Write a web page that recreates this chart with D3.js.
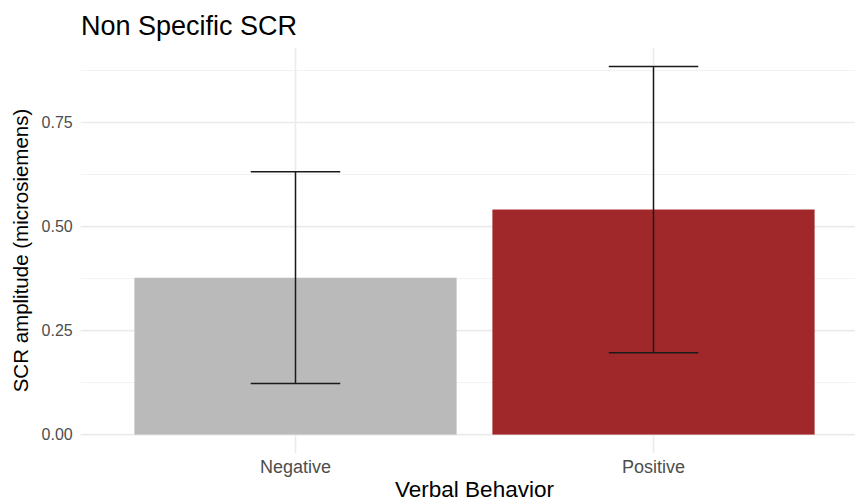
<!DOCTYPE html>
<html>
<head>
<meta charset="utf-8">
<script src="https://cdn.jsdelivr.net/npm/d3@7"></script>
<style>
	body { margin: 0; background: #fff; }
	text { font-family: "Liberation Sans", Arial, sans-serif; }
</style>
</head>
<body>
<svg id="chart" width="855" height="501"></svg>
<script>
// data
const categories = ["Negative", "Positive"];
const means = [0.377, 0.541];
const lower = [0.123, 0.197];
const upper = [0.632, 0.885];
const barColors = ["#BABABA", "#A1282A"];
const yTicks = [0, 0.25, 0.5, 0.75];
const yMinor = [0.125, 0.375, 0.625, 0.875];

let size = { left: 80.7, right: 868.3, top: 48, bottom: 453 };

let svg = d3.select("#chart");
let containerG = svg.append("g");

// ggplot-like expansion: 0.6 units each side for discrete x, 5% for y
let x = d3
	.scaleBand()
	.domain(categories)
	.range([size.left, size.right])
	.paddingInner(0.1)
	.paddingOuter(0.15);

let yMax = d3.max(upper);
let y = d3
	.scaleLinear()
	.domain([-0.05 * yMax, yMax * 1.05])
	.range([size.bottom, size.top]);

// grid
containerG
	.selectAll("line.minor")
	.data(yMinor)
	.join("line")
	.classed("minor", true)
	.attr("x1", size.left)
	.attr("x2", size.right)
	.attr("y1", (d) => y(d))
	.attr("y2", (d) => y(d))
	.attr("stroke", "#F2F2F2")
	.attr("stroke-width", 1);

containerG
	.selectAll("line.major")
	.data(yTicks)
	.join("line")
	.classed("major", true)
	.attr("x1", size.left)
	.attr("x2", size.right)
	.attr("y1", (d) => y(d))
	.attr("y2", (d) => y(d))
	.attr("stroke", "#EBEBEB")
	.attr("stroke-width", 1.6);

containerG
	.selectAll("line.vmajor")
	.data(categories)
	.join("line")
	.classed("vmajor", true)
	.attr("x1", (d) => x(d) + x.bandwidth() / 2)
	.attr("x2", (d) => x(d) + x.bandwidth() / 2)
	.attr("y1", size.top)
	.attr("y2", size.bottom)
	.attr("stroke", "#EBEBEB")
	.attr("stroke-width", 1.6);

// bars
containerG
	.selectAll("rect.bar")
	.data(categories)
	.join("rect")
	.classed("bar", true)
	.attr("x", (d) => x(d))
	.attr("width", x.bandwidth())
	.attr("y", (d, i) => y(means[i]))
	.attr("height", (d, i) => y(0) - y(means[i]))
	.attr("fill", (d, i) => barColors[i]);

// error bars, width 0.25 of a category step
let capW = x.step() * 0.25;
let errG = containerG
	.selectAll("g.err")
	.data(categories)
	.join("g")
	.classed("err", true)
	.attr("transform", (d) => `translate(${x(d) + x.bandwidth() / 2},0)`)
	.attr("stroke", "#1a1a1a")
	.attr("stroke-width", 1.5);

errG.append("line")
	.attr("y1", (d, i) => y(lower[i]))
	.attr("y2", (d, i) => y(upper[i]));
errG.append("line")
	.attr("x1", -capW / 2)
	.attr("x2", capW / 2)
	.attr("y1", (d, i) => y(upper[i]))
	.attr("y2", (d, i) => y(upper[i]));
errG.append("line")
	.attr("x1", -capW / 2)
	.attr("x2", capW / 2)
	.attr("y1", (d, i) => y(lower[i]))
	.attr("y2", (d, i) => y(lower[i]));

// axes (text only, like theme_minimal)
let yAxis = svg
	.append("g")
	.attr("transform", `translate(${size.left},0)`)
	.call(d3.axisLeft(y).tickValues(yTicks).tickFormat(d3.format(".2f")).tickSize(0).tickPadding(8));
yAxis.select(".domain").remove();
yAxis.selectAll("text")
	.attr("font-size", 16)
	.attr("fill", "#4D4D4D")
	.attr("font-family", "Liberation Sans, Arial, sans-serif");

let xAxis = svg
	.append("g")
	.attr("transform", `translate(0,${size.bottom})`)
	.call(d3.axisBottom(x).tickSize(0).tickPadding(7));
xAxis.select(".domain").remove();
xAxis.selectAll("text")
	.attr("font-size", 18)
	.attr("fill", "#4D4D4D")
	.attr("font-family", "Liberation Sans, Arial, sans-serif");

// titles
svg.append("text")
	.attr("x", 81)
	.attr("y", 35)
	.attr("font-size", 27)
	.attr("fill", "#000")
	.text("Non Specific SCR");

svg.append("text")
	.attr("x", (size.left + size.right) / 2)
	.attr("y", 497)
	.attr("text-anchor", "middle")
	.attr("font-size", 22.5)
	.attr("fill", "#000")
	.text("Verbal Behavior");

svg.append("text")
	.attr("transform", `translate(27.5,${(size.top + size.bottom) / 2}) rotate(-90)`)
	.attr("text-anchor", "middle")
	.attr("font-size", 20.5)
	.attr("fill", "#000")
	.text("SCR amplitude (microsiemens)");
</script>
</body>
</html>
